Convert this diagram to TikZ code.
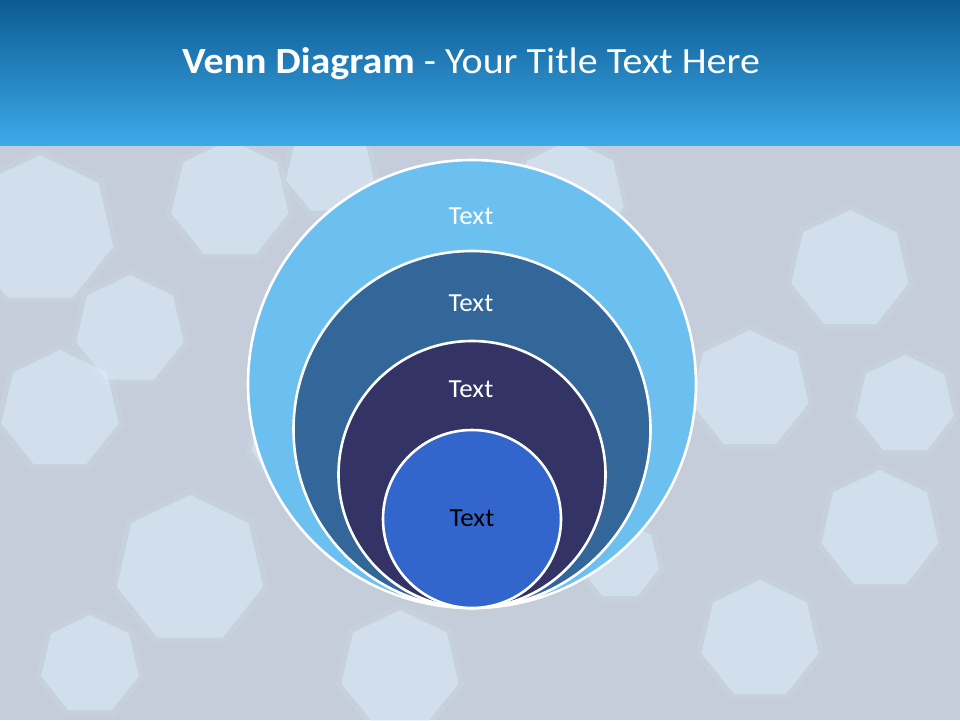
\documentclass[tikz,border=0pt]{standalone}
\usepackage{fontspec}
\setmainfont{Carlito}
\usetikzlibrary{positioning,shapes.geometric}

\definecolor{headTop}{HTML}{0D5B92}
\definecolor{headBot}{HTML}{3CAAEA}
\definecolor{backBase}{HTML}{C5CDDB}
\definecolor{blobTint}{HTML}{DCEEFB}
\definecolor{ringOne}{HTML}{6BC0EF}
\definecolor{ringTwo}{HTML}{336699}
\definecolor{ringThree}{HTML}{333366}
\definecolor{ringFour}{HTML}{3366CC}

\begin{document}
\begin{tikzpicture}[
x=1pt, y=-1pt,
ring/.style={circle, draw=white, line width=2.6pt, inner sep=0pt},
lbl/.style={font=\fontsize{26}{30}\selectfont, text=white, xscale=1.04},
bokeh/.style={regular polygon, regular polygon sides=7, fill=blobTint, fill opacity=0.5, draw=none, inner sep=0pt},
halo/.style={regular polygon, regular polygon sides=7, fill=blobTint, fill opacity=0.12, draw=none, inner sep=0pt}
]
% frame and background
\useasboundingbox (0,0) rectangle (960,720);
\fill[backBase] (0,0) rectangle (960,720);
\begin{scope}
\clip (0,145) rectangle (960,720);
\foreach \bx/\by/\bs [count=\i] in {40/230/150, 230/200/120, 130/330/110, 60/410/120,
  190/570/150, 400/670/120, 570/195/110, 750/390/120, 850/270/120, 905/405/100,
  880/530/120, 760/640/120, 620/560/80, 300/440/100, 90/665/100, 330/170/90}
{
  \node[halo, minimum size=\bs pt+12pt] (halo\i) at (\bx,\by) {};
  \node[bokeh, minimum size=\bs pt] (blob\i) at (\bx,\by) {};
}
\end{scope}

% title bar
\shade[top color=headTop, bottom color=headBot] (0,0) rectangle (960,145);
\node[font=\fontsize{37}{42}\selectfont, text=white, xscale=1.08] (title) at (471,64)
  {\textbf{Venn Diagram} - Your Title Text Here};

% nested circles
\node[ring, fill=ringOne, minimum size=448pt] (outer) at (472,384) {};
\node[ring, fill=ringTwo, minimum size=357pt] (second) at (472,429.5) {};
\node[ring, fill=ringThree, minimum size=267pt] (third) at (472,474.5) {};
\node[ring, fill=ringFour, minimum size=178pt] (inner) at (472,519) {};

\node[lbl] (txtOuter) at (471,216) {Text};
\node[lbl] (txtSecond) at (471,303) {Text};
\node[lbl] (txtThird) at (471,389) {Text};
\node[lbl, text=black] (txtInner) at (472,518) {Text};
\end{tikzpicture}
\end{document}
